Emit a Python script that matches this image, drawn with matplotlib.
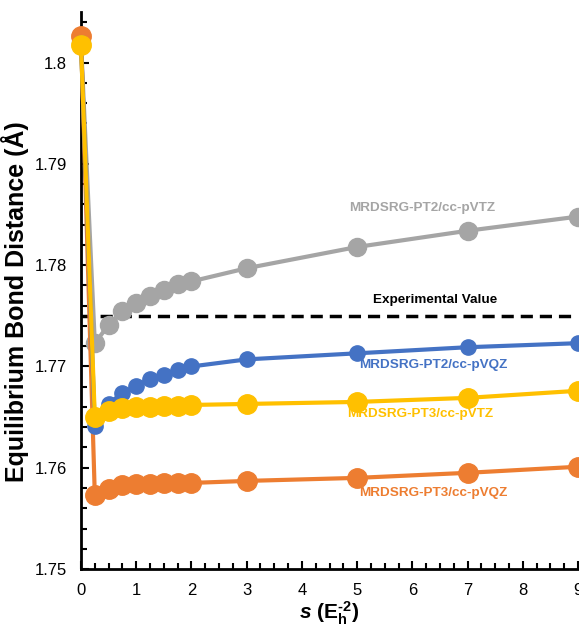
import matplotlib
matplotlib.use("Agg")
import matplotlib.pyplot as plt
from matplotlib.ticker import MultipleLocator

plt.rcParams["font.family"] = ["Liberation Sans", "DejaVu Sans"]
plt.rcParams["mathtext.fontset"] = "custom"
plt.rcParams["mathtext.rm"] = "Liberation Sans"
plt.rcParams["mathtext.bf"] = "Liberation Sans:bold"
plt.rcParams["mathtext.it"] = "Liberation Sans:italic"
plt.rcParams["mathtext.bfit"] = "Liberation Sans:bold:italic"

# flow parameter s
s_vals = [0, 0.25, 0.5, 0.75, 1.0, 1.25, 1.5, 1.75, 2, 3, 5, 7, 9]

pt2_vtz = [1.8020, 1.7723, 1.7741, 1.7755, 1.7763, 1.7770, 1.7776, 1.7781, 1.7784,
           1.7797, 1.7818, 1.7834, 1.7848]
pt2_vqz = [1.8019, 1.7641, 1.7663, 1.7674, 1.7681, 1.7688, 1.7692, 1.7697, 1.7700,
           1.7707, 1.7713, 1.7719, 1.7723]
pt3_vtz = [1.8017, 1.7650, 1.7656, 1.7659, 1.7660, 1.7660, 1.7661, 1.7661, 1.7662,
           1.7663, 1.7665, 1.7669, 1.7676]
pt3_vqz = [1.8026, 1.7573, 1.7579, 1.7583, 1.7584, 1.7584, 1.7585, 1.7585, 1.7585,
           1.7587, 1.7590, 1.7595, 1.7601]

r_exp = 1.775

fig = plt.figure(figsize=(5.79, 6.28), dpi=100)
ax = fig.add_axes([0.1399, 0.0939, 0.8584, 0.887])

ax.plot(s_vals, pt2_vtz, color="#A5A5A5", lw=3, marker="o", ms=13, clip_on=False, zorder=3)
ax.plot(s_vals, pt3_vqz, color="#ED7D31", lw=3, marker="o", ms=14, clip_on=False, zorder=4)
ax.plot(s_vals, pt2_vqz, color="#4472C4", lw=3, marker="o", ms=11, clip_on=False, zorder=5)
ax.plot(s_vals, pt3_vtz, color="#FFC000", lw=3, marker="o", ms=14, clip_on=False, zorder=6)
ax.axhline(r_exp, color="black", lw=2.5, ls=(0, (3.5, 2)), zorder=2)

lbl = dict(fontsize=9.7, fontweight="bold", ha="center", va="center")
ax.text(6.18, 1.7856, "MRDSRG-PT2/cc-pVTZ", color="#A5A5A5", **lbl)
ax.text(6.41, 1.7766, "Experimental Value", color="black", **lbl)
ax.text(6.38, 1.7701, "MRDSRG-PT2/cc-pVQZ", color="#4472C4", **lbl)
ax.text(6.14, 1.7653, "MRDSRG-PT3/cc-pVTZ", color="#FFC000", **lbl)
ax.text(6.38, 1.7575, "MRDSRG-PT3/cc-pVQZ", color="#ED7D31", **lbl)

ax.set_xlim(0, 9)
ax.set_ylim(1.75, 1.805)
ax.xaxis.set_major_locator(MultipleLocator(1))
ax.xaxis.set_minor_locator(MultipleLocator(0.25))
ax.yaxis.set_minor_locator(MultipleLocator(0.002))
ax.set_yticks([1.75, 1.76, 1.77, 1.78, 1.79, 1.8])
ax.set_yticklabels(["1.75", "1.76", "1.77", "1.78", "1.79", "1.8"])
ax.tick_params(which="both", direction="in", width=1.5, labelsize=12)
ax.tick_params(which="major", length=6)
ax.tick_params(which="minor", length=4)
ax.tick_params(axis="x", which="major", pad=10)
ax.tick_params(axis="y", which="major", pad=10)

for side in ("top", "right"):
    ax.spines[side].set_visible(False)
for side in ("left", "bottom"):
    ax.spines[side].set_linewidth(2)

ax.set_ylabel("Equilibrium Bond Distance (Å)", fontsize=18, fontweight="bold")
ax.yaxis.set_label_coords(-0.104, 0.48)
ax.set_xlabel(r"$\mathbfit{s}$ $\mathbf{(E_h^{‐2})}$", fontsize=15)
ax.xaxis.set_label_coords(0.5, -0.055)

fig.savefig("out.png", dpi=100)
